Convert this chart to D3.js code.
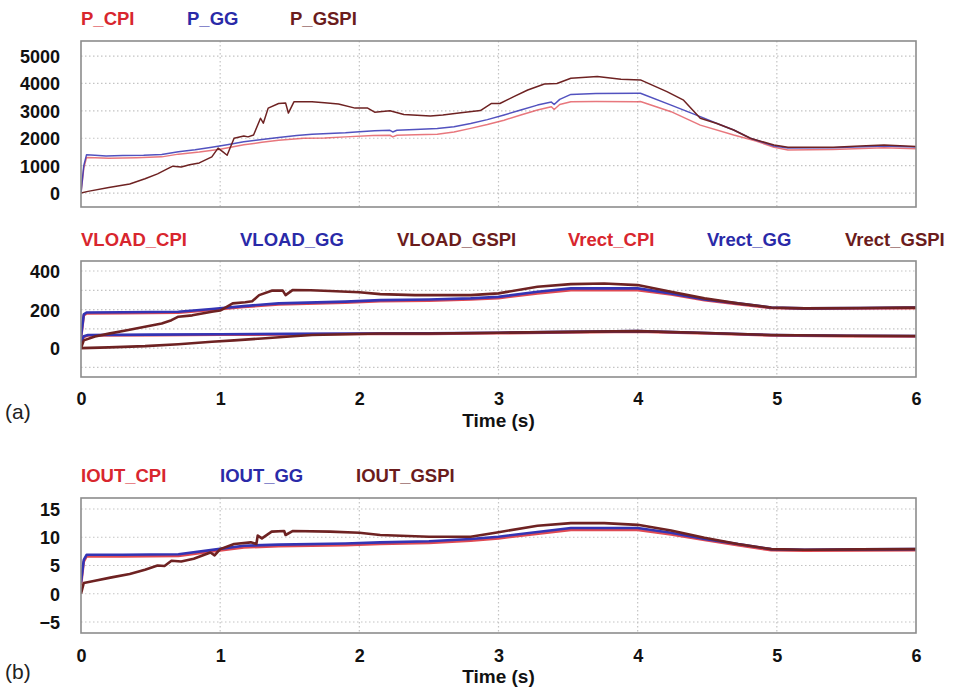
<!DOCTYPE html>
<html><head><meta charset="utf-8">
<script src="https://cdn.jsdelivr.net/npm/d3@7"></script>
<style>body{margin:0;background:#fff}svg{display:block}</style>
</head><body>
<svg id="c" width="953" height="690"></svg>
<script>
// ---------- data ----------
const timeTicks = [0,1,2,3,4,5,6];

const pTicks = [0,1000,2000,3000,4000,5000];
const pGrid = [0,1000,2000,3000,4000,5000];
const pLegend = ["P_CPI","P_GG","P_GSPI"];
const P_CPI = [[0,0],[0.02,900],[0.04,1300],[0.1,1290],[0.2,1270],[0.4,1290],[0.58,1320],[0.7,1420],[0.85,1500],[1.0,1600],[1.17,1760],[1.3,1850],[1.42,1930],[1.6,2000],[1.75,2010],[1.9,2050],[2.1,2100],[2.22,2110],[2.24,2050],[2.27,2110],[2.4,2130],[2.56,2150],[2.68,2230],[2.8,2360],[2.92,2500],[3.04,2660],[3.16,2850],[3.28,3030],[3.38,3150],[3.40,3050],[3.44,3230],[3.52,3330],[3.7,3340],[4.0,3330],[4.02,3340],[4.24,2970],[4.45,2480],[4.69,2120],[4.85,1900],[4.98,1670],[5.08,1570],[5.4,1590],[5.77,1650],[6.0,1620]];
const P_GG = [[0,0],[0.02,1000],[0.04,1400],[0.1,1380],[0.18,1350],[0.3,1370],[0.45,1380],[0.58,1410],[0.7,1510],[0.82,1580],[0.94,1670],[1.05,1760],[1.17,1870],[1.3,1950],[1.42,2030],[1.55,2100],[1.66,2150],[1.78,2170],[1.9,2200],[2.0,2240],[2.11,2270],[2.22,2290],[2.24,2230],[2.27,2290],[2.4,2320],[2.56,2360],[2.68,2420],[2.8,2540],[2.92,2680],[3.04,2850],[3.16,3030],[3.28,3210],[3.38,3320],[3.40,3230],[3.44,3420],[3.52,3600],[3.7,3630],[4.0,3640],[4.02,3640],[4.24,3210],[4.45,2790],[4.57,2540],[4.69,2300],[4.81,2000],[4.98,1720],[5.08,1640],[5.4,1650],[5.77,1720],[6.0,1680]];
const P_GSPI = [[0,0],[0.05,60],[0.2,200],[0.35,330],[0.46,520],[0.55,700],[0.62,880],[0.66,980],[0.72,950],[0.78,1030],[0.85,1100],[0.94,1320],[0.985,1640],[1.02,1500],[1.05,1380],[1.1,2000],[1.17,2080],[1.2,2050],[1.24,2120],[1.29,2730],[1.31,2550],[1.345,3100],[1.42,3270],[1.47,3290],[1.49,2920],[1.53,3330],[1.66,3330],[1.75,3300],[1.85,3250],[1.97,3100],[2.06,3100],[2.11,2950],[2.22,3000],[2.32,2870],[2.51,2810],[2.6,2850],[2.73,2930],[2.87,3010],[2.95,3270],[3.01,3270],[3.11,3520],[3.21,3760],[3.33,3980],[3.42,4000],[3.52,4190],[3.71,4250],[3.88,4150],[4.02,4130],[4.21,3700],[4.33,3390],[4.45,2730],[4.57,2540],[4.69,2300],[4.81,2000],[4.98,1750],[5.08,1670],[5.41,1670],[5.6,1720],[5.77,1750],[6.0,1700]];

const vTicks = [0,200,400];
const vGrid = [-100,0,100,200,300,400];
const vLegend = ["VLOAD_CPI","VLOAD_GG","VLOAD_GSPI","Vrect_CPI","Vrect_GG","Vrect_GSPI"];
const VLOAD_CPI = [[0,50],[0.02,170],[0.04,180],[0.3,181],[0.7,184],[0.94,198],[1.17,213],[1.42,227],[1.9,236],[2.15,243],[2.5,246],[2.8,252],[3.0,259],[3.28,284],[3.52,300],[4.0,300],[4.24,278],[4.48,248],[4.72,228],[4.96,208],[5.2,204],[5.6,206],[6.0,207]];
const VLOAD_GG = [[0,60],[0.02,175],[0.04,185],[0.3,186],[0.7,189],[0.94,203],[1.17,218],[1.42,232],[1.9,241],[2.15,249],[2.5,252],[2.8,258],[3.0,266],[3.28,292],[3.52,310],[4.0,310],[4.24,284],[4.48,252],[4.72,232],[4.96,211],[5.2,206],[5.6,208],[6.0,210]];
const VLOAD_GSPI = [[0,0],[0.02,40],[0.1,60],[0.2,75],[0.34,94],[0.45,110],[0.58,128],[0.65,145],[0.7,163],[0.8,170],[0.94,189],[1.0,195],[1.09,232],[1.18,238],[1.23,243],[1.28,275],[1.37,298],[1.45,298],[1.47,275],[1.52,301],[1.65,300],[1.79,296],[2.0,290],[2.15,280],[2.4,275],[2.8,275],[3.0,284],[3.28,318],[3.52,332],[3.76,335],[4.0,327],[4.24,292],[4.48,258],[4.72,232],[4.96,211],[5.2,206],[5.6,208],[5.92,211],[6.0,210]];
const Vrect_CPI = [[0,25],[0.02,58],[0.05,65],[0.5,67],[1.0,69],[1.5,71],[2.0,73],[2.5,74],[3.0,77],[3.5,81],[4.0,85],[4.5,76],[4.96,66],[5.5,62],[6.0,61]];
const Vrect_GG = [[0,30],[0.02,62],[0.05,68],[0.5,70],[1.0,72],[1.5,74],[2.0,76],[2.5,77],[3.0,80],[3.5,84],[4.0,88],[4.5,78],[4.96,68],[5.5,64],[6.0,63]];
const Vrect_GSPI = [[0,0],[0.2,4],[0.46,10],[0.7,20],[0.94,33],[1.1,40],[1.3,50],[1.5,60],[1.66,68],[1.9,72],[2.15,76],[2.5,76],[3.0,80],[3.5,84],[4.0,88],[4.5,78],[4.96,68],[5.5,64],[6.0,63]];

const iTicks = [-5,0,5,10,15];
const iGrid = [-5,0,5,10,15];
const iLegend = ["IOUT_CPI","IOUT_GG","IOUT_GSPI"];
const IOUT_CPI = [[0,1.5],[0.02,5.7],[0.04,6.6],[0.3,6.6],[0.7,6.7],[0.985,7.6],[1.17,8.2],[1.42,8.4],[1.9,8.6],[2.15,8.8],[2.5,9.0],[2.8,9.4],[3.0,9.8],[3.52,11.3],[4.0,11.3],[4.24,10.5],[4.48,9.5],[4.72,8.6],[4.96,7.7],[5.2,7.6],[5.6,7.65],[6.0,7.7]];
const IOUT_GG = [[0,2],[0.02,6.0],[0.04,6.9],[0.3,6.9],[0.7,7.0],[0.985,7.9],[1.17,8.5],[1.42,8.7],[1.9,8.9],[2.15,9.1],[2.5,9.3],[2.8,9.7],[3.0,10.1],[3.52,11.65],[4.0,11.65],[4.24,10.8],[4.48,9.7],[4.72,8.8],[4.96,7.9],[5.2,7.8],[5.6,7.85],[6.0,7.9]];
const IOUT_GSPI = [[0,0],[0.02,1.9],[0.1,2.3],[0.22,2.9],[0.35,3.5],[0.46,4.25],[0.55,5.0],[0.6,4.9],[0.65,5.85],[0.72,5.7],[0.81,6.2],[0.93,7.3],[0.96,6.8],[1.0,7.9],[1.1,8.8],[1.22,9.1],[1.26,8.8],[1.27,10.3],[1.3,9.8],[1.37,11.0],[1.46,11.1],[1.47,10.4],[1.52,11.1],[1.79,11.0],[2.0,10.8],[2.15,10.4],[2.5,10.1],[2.8,10.1],[3.0,10.9],[3.28,12.05],[3.52,12.5],[3.76,12.5],[4.0,12.2],[4.24,11.2],[4.48,9.9],[4.72,8.8],[4.96,7.9],[5.2,7.8],[5.6,7.85],[6.0,7.9]];

// ---------- drawing ----------
const svg = d3.select("#c");
const FONT = "'Liberation Sans', Arial, sans-serif";
const colCPI = "#e04a52", colGG = "#3434b4", colGSPI = "#6e2222";
const txtCPI = "#d8262e", txtGG = "#2a2aa8", txtGSPI = "#6b1c1c";
const L = 81, R = 916;
const x = d3.scaleLinear().domain([0,6]).range([L,R]);

function panel(o){
  const y = d3.scaleLinear().domain(o.domain).range([o.bottom,o.top]);
  const g = svg.append("g");
  g.selectAll(".hg").data(o.grid).join("line")
    .attr("x1",L).attr("x2",R).attr("y1",d=>y(d)).attr("y2",d=>y(d))
    .attr("stroke","#c4c4c4").attr("stroke-width",1.2).attr("stroke-dasharray","1.5,2.5");
  g.selectAll(".vg").data(timeTicks.slice(1,-1)).join("line")
    .attr("x1",d=>x(d)).attr("x2",d=>x(d)).attr("y1",o.top).attr("y2",o.bottom)
    .attr("stroke","#c4c4c4").attr("stroke-width",1.2).attr("stroke-dasharray","1.5,2.5");
  const yAxis = d3.axisLeft(y).tickValues(o.ticks).tickSize(0).tickPadding(0).tickFormat(d3.format("d"));
  const ya = g.append("g").attr("transform",`translate(60,0)`).call(yAxis);
  ya.select(".domain").remove();
  ya.selectAll("text").attr("font-family",FONT).attr("font-weight","bold").attr("font-size",18).attr("fill","#111").attr("dy","0.36em");
  const line = d3.line().x(d=>x(d[0])).y(d=>y(d[1]));
  const clipId = "clip"+o.top;
  svg.append("clipPath").attr("id",clipId).append("rect").attr("x",L).attr("y",o.top).attr("width",R-L).attr("height",o.bottom-o.top);
  const sg = g.append("g").attr("clip-path",`url(#${clipId})`);
  o.series.forEach(s=>{
    sg.append("path").attr("d",line(s.data)).attr("fill","none")
      .attr("stroke",s.color).attr("stroke-width",o.sw).attr("stroke-linejoin","round").attr("opacity",s.op||1);
  });
  g.append("rect").attr("x",L).attr("y",o.top).attr("width",R-L).attr("height",o.bottom-o.top)
    .attr("fill","none").attr("stroke","#8c8c8c").attr("stroke-width",1.6);
  g.selectAll(".lg").data(o.legend).join("text")
    .attr("x",d=>d.x).attr("y",o.legendY).text(d=>d.t)
    .attr("font-family",FONT).attr("font-weight","bold").attr("font-size",18.5).attr("fill",d=>d.c);
  if(o.xaxis){
    const xAxis = d3.axisBottom(x).tickValues(timeTicks).tickSize(0).tickPadding(0).tickFormat(d3.format("d"));
    const xa = g.append("g").attr("transform",`translate(0,${o.xaxis.y})`).call(xAxis);
    xa.select(".domain").remove();
    xa.selectAll("text").attr("font-family",FONT).attr("font-weight","bold").attr("font-size",18).attr("fill","#111").attr("dy",0);
    g.append("text").attr("x",x(3)).attr("y",o.xaxis.titleY).attr("text-anchor","middle")
      .attr("font-family",FONT).attr("font-weight","bold").attr("font-size",19).attr("fill","#111").text("Time (s)");
    g.append("text").attr("x",5).attr("y",o.xaxis.labY).text(o.xaxis.lab)
      .attr("font-family",FONT).attr("font-size",21).attr("fill","#222");
  }
}

panel({
  top:41,bottom:207,domain:[-510,5550],grid:pGrid,ticks:pTicks,sw:1.5,legendY:25,
  legend:[{t:pLegend[0],x:81,c:txtCPI},{t:pLegend[1],x:187,c:txtGG},{t:pLegend[2],x:290,c:txtGSPI}],
  series:[{data:P_CPI,color:colCPI,op:0.75},{data:P_GG,color:colGG,op:0.85},{data:P_GSPI,color:colGSPI}]
});
panel({
  top:261,bottom:377,domain:[-150,452],grid:vGrid,ticks:vTicks,sw:2.6,legendY:246,
  legend:[{t:vLegend[0],x:81,c:txtCPI},{t:vLegend[1],x:240,c:txtGG},{t:vLegend[2],x:397,c:txtGSPI},
          {t:vLegend[3],x:568,c:txtCPI},{t:vLegend[4],x:707,c:txtGG},{t:vLegend[5],x:845,c:txtGSPI}],
  series:[{data:VLOAD_CPI,color:colCPI},{data:Vrect_CPI,color:colCPI},{data:VLOAD_GG,color:colGG},{data:Vrect_GG,color:colGG},
          {data:VLOAD_GSPI,color:colGSPI},{data:Vrect_GSPI,color:colGSPI}],
  xaxis:{y:405,titleY:427,labY:419,lab:"(a)"}
});
panel({
  top:498,bottom:633,domain:[-6.95,16.95],grid:iGrid,ticks:iTicks,sw:2.6,legendY:482,
  legend:[{t:iLegend[0],x:81,c:txtCPI},{t:iLegend[1],x:220,c:txtGG},{t:iLegend[2],x:356,c:txtGSPI}],
  series:[{data:IOUT_CPI,color:colCPI},{data:IOUT_GG,color:colGG},{data:IOUT_GSPI,color:colGSPI}],
  xaxis:{y:662,titleY:683,labY:679,lab:"(b)"}
});
</script>
</body></html>
